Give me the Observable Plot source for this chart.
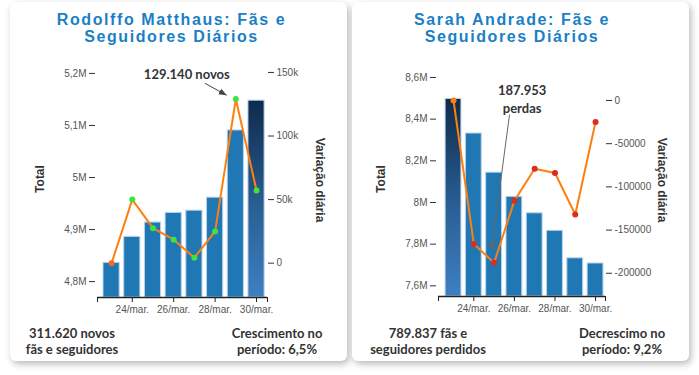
<!DOCTYPE html>
<html>
<head>
<meta charset="utf-8">
<script src="https://cdn.jsdelivr.net/npm/d3@7"></script>
<script src="https://cdn.jsdelivr.net/npm/@observablehq/plot@0.6"></script>
<style>
  html, body { margin: 0; padding: 0; }
  body { width: 699px; height: 375px; background: #ffffff; position: relative; overflow: hidden; font-family: "Liberation Sans", Arial, sans-serif; }
  .card { position: absolute; top: 2px; width: 337px; height: 359px; background: #fff; border-radius: 6px; box-shadow: 2px 3px 7px rgba(0,0,0,0.28); }
  .title { position: absolute; text-align: center; color: #1b7fc4; font-weight: bold; font-size: 16px; line-height: 17px; height: 17px; letter-spacing: 1.6px; white-space: nowrap; font-family: "Liberation Sans", Arial, sans-serif; }
  .layer { position: absolute; left: 0; top: 48px; }
  .axlab { position: absolute; white-space: nowrap; font-size: 12px; font-weight: bold; color: #333; }
  .foot { position: absolute; top: 323px; transform: translateX(-50%); text-align: center; white-space: nowrap; font-family: Lato, "Open Sans", sans-serif; font-weight: bold; font-size: 13px; line-height: 16px; color: #333; }
</style>
</head>
<body>
<div class="card" id="card1" style="left:10px">
  <div class="title" style="left:0;width:323px;top:9px">Rodolffo Matthaus: Fãs e</div>
  <div class="title" style="left:0;width:323px;top:26px">Seguidores Diários</div>
  <div class="layer" id="bars1"></div>
  <div class="layer" id="line1"></div>
  <div class="axlab" style="left:30px;top:177px;transform:translate(-50%,-50%) rotate(-90deg)">Total</div>
  <div class="axlab" style="left:310px;top:178px;transform:translate(-50%,-50%) rotate(90deg)">Variação diária</div>
  <div class="foot" style="left:62px">311.620 novos<br>fãs e seguidores</div>
  <div class="foot" style="left:267px">Crescimento no<br>período: 6,5%</div>
</div>
<div class="card" id="card2" style="left:352px">
  <div class="title" style="left:0;width:320px;top:9px">Sarah Andrade: Fãs e</div>
  <div class="title" style="left:0;width:320px;top:26px">Seguidores Diários</div>
  <div class="layer" id="bars2"></div>
  <div class="layer" id="line2"></div>
  <div class="axlab" style="left:29px;top:177px;transform:translate(-50%,-50%) rotate(-90deg)">Total</div>
  <div class="axlab" style="left:310px;top:178px;transform:translate(-50%,-50%) rotate(90deg)">Variação diária</div>
  <div class="foot" style="left:76px">789.837 fãs e<br>seguidores perdidos</div>
  <div class="foot" style="left:270px">Decrescimo no<br>período: 9,2%</div>
</div>
<script>
// ---- data ----
const dias = [23, 24, 25, 26, 27, 28, 29, 30];
const mesRotulo = "mar.";
const xTickDias = [24, 26, 28, 30];

const rodolffoTotal = [4836000, 4886000, 4913500, 4932000, 4936300, 4961300, 5090440, 5147620];
const rodolffoVariacao = [0, 50000, 27500, 18500, 4300, 25000, 129140, 57180];
const rodolffoTicksTotal = [4800000, 4900000, 5000000, 5100000, 5200000];
const rodolffoRotulosTotal = ["4,8M", "4,9M", "5M", "5,1M", "5,2M"];
const rodolffoTicksVar = [0, 50000, 100000, 150000];
const rodolffoRotulosVar = ["0", "50k", "100k", "150k"];

const sarahTotal = [8497000, 8331000, 8143047, 8027047, 7948047, 7864047, 7732047, 7707163];
const sarahVariacao = [0, -166000, -187953, -116000, -79000, -84000, -132000, -24884];
const sarahTicksTotal = [7600000, 7800000, 8000000, 8200000, 8400000, 8600000];
const sarahRotulosTotal = ["7,6M", "7,8M", "8M", "8,2M", "8,4M", "8,6M"];
const sarahTicksVar = [0, -50000, -100000, -150000, -200000];
const sarahRotulosVar = ["0", "-50000", "-100000", "-150000", "-200000"];

const ptBR = d3.formatLocale({decimal: ",", thousands: ".", grouping: [3], currency: ["R$", ""]});
const fmtInt = ptBR.format(",");

function triMarker(color) {
  const ns = "http://www.w3.org/2000/svg";
  const m = document.createElementNS(ns, "marker");
  m.setAttribute("viewBox", "-10 -5 10 10");
  m.setAttribute("markerWidth", "8");
  m.setAttribute("markerHeight", "8");
  m.setAttribute("markerUnits", "userSpaceOnUse");
  m.setAttribute("orient", "auto");
  const p = document.createElementNS(ns, "path");
  p.setAttribute("d", "M-10,-4L0,0L-10,4Z");
  p.setAttribute("fill", color);
  p.setAttribute("stroke", "none");
  m.appendChild(p);
  return m;
}

function build(cfg) {
  const data = dias.map((d, i) => ({dia: d, total: cfg.total[i], v: cfg.variacao[i], first: i === 0}));
  const maxI = d3.maxIndex(cfg.total);
  const gradId = "grad-" + cfg.id;
  const common = {
    width: 337, height: 270,
    marginTop: 10, marginBottom: cfg.mb, marginLeft: cfg.ml, marginRight: cfg.mr,
    style: {background: "transparent", color: "#555", fontSize: "10px", fontFamily: "'Liberation Sans', Arial, sans-serif", overflow: "visible"}
  };
  const xDom = cfg.xDom;
  const bars = Plot.plot({
    ...common,
    x: {domain: xDom},
    y: {domain: cfg.yDom},
    marks: [
      Plot.rect(data.filter((d, i) => i !== maxI), {x1: d => d.dia - 0.39, x2: d => d.dia + 0.39, y1: () => cfg.yDom[0], y2: "total", fill: "#1f77b4", stroke: "#b8d3ec", strokeWidth: 1}),
      Plot.rect(data.filter((d, i) => i === maxI), {x1: d => d.dia - 0.39, x2: d => d.dia + 0.39, y1: () => cfg.yDom[0], y2: "total", fill: `url(#${gradId})`, stroke: "#b8d3ec", strokeWidth: 1}),
      Plot.ruleY([cfg.yDom[0]], {stroke: "#222", strokeWidth: 1.5}),
      Plot.axisY({ticks: cfg.tTicks, tickFormat: d => cfg.tLabels[cfg.tTicks.indexOf(d)], tickSize: 6, tickPadding: 3, dx: -2, label: null, stroke: "#333"}),
      Plot.axisX({ticks: [xDom[0], ...xTickDias, xDom[1]], tickFormat: d => xTickDias.includes(d) ? `${d}/${mesRotulo}` : "", tickSize: 5, tickPadding: 3, label: null, stroke: "#222"})
    ]
  });
  const ns = "http://www.w3.org/2000/svg";
  const defs = document.createElementNS(ns, "defs");
  const lg = document.createElementNS(ns, "linearGradient");
  lg.setAttribute("id", gradId);
  lg.setAttribute("x1", "0"); lg.setAttribute("y1", "0"); lg.setAttribute("x2", "0"); lg.setAttribute("y2", "1");
  [["0%", "#0f2a4b"], ["55%", "#2a5f95"], ["100%", "#3d80c2"]].forEach(([o, c]) => {
    const s = document.createElementNS(ns, "stop");
    s.setAttribute("offset", o); s.setAttribute("stop-color", c);
    lg.appendChild(s);
  });
  defs.appendChild(lg);
  bars.insertBefore(defs, bars.firstChild);
  document.getElementById("bars" + cfg.id).appendChild(bars);

  const ext = data[cfg.annotIndex];
  const line = Plot.plot({
    ...common,
    x: {domain: xDom, axis: null},
    y: {domain: cfg.vDom},
    color: {type: "identity"},
    marks: [
      Plot.axisY({anchor: "right", ticks: cfg.vTicks, tickFormat: d => cfg.vLabels[cfg.vTicks.indexOf(d)], tickSize: 6, tickPadding: 3, label: null, stroke: "#333"}),
      Plot.line(data, {x: "dia", y: "v", stroke: "#ff7f0e", strokeWidth: 2}),
      Plot.dot(data, {x: "dia", y: "v", r: 3, fill: d => d.first ? cfg.firstColor : cfg.ptColor, stroke: "none"}),
      Plot.link([ext], {x1: d => d.dia + cfg.arrow[0], y1: d => d.v + cfg.arrow[1], x2: d => d.dia + cfg.arrow[2], y2: d => d.v + cfg.arrow[3], stroke: cfg.arrowColor, strokeWidth: 1, markerEnd: triMarker}),
      Plot.text([ext], {x: "dia", y: "v", text: cfg.annotText, dx: cfg.annotDx, dy: cfg.annotDy, fontFamily: "Lato, 'Open Sans', sans-serif", fontWeight: "bold", fontSize: 13, fill: "#333", lineHeight: 1.38})
    ]
  });
  document.getElementById("line" + cfg.id).appendChild(line);
}

build({
  id: 1,
  total: rodolffoTotal, variacao: rodolffoVariacao,
  xDom: [22.32, 30.53],
  yDom: [4769500, 5224800], vDom: [-27000, 159400],
  tTicks: rodolffoTicksTotal, tLabels: rodolffoRotulosTotal,
  vTicks: rodolffoTicksVar, vLabels: rodolffoRotulosVar,
  ml: 87, mr: 80, mb: 23,
  ptColor: "#3fe23f", firstColor: "#ee6a2a",
  annotIndex: d3.maxIndex(rodolffoVariacao),
  annotText: d => `${fmtInt(d.v)} novos`,
  annotDx: -49, annotDy: -26,
  arrow: [-1.5, 12400, -0.44, 2900], arrowColor: "#444"
});

build({
  id: 2,
  total: sarahTotal, variacao: sarahVariacao,
  xDom: [22.26, 30.49],
  yDom: [7548700, 8681500], vDom: [-226900, 46300],
  tTicks: sarahTicksTotal, tLabels: sarahRotulosTotal,
  vTicks: sarahTicksVar, vLabels: sarahRotulosVar,
  ml: 86, mr: 84, mb: 24,
  ptColor: "#dd2c1c", firstColor: "#ff7f0e",
  annotIndex: d3.minIndex(sarahVariacao),
  annotText: d => `${fmtInt(-d.v)}\nperdas`,
  annotDx: 28, annotDy: -165,
  arrow: [0.76, 171750, -0.13, 14300], arrowColor: "#666"
});
</script>
</body>
</html>
